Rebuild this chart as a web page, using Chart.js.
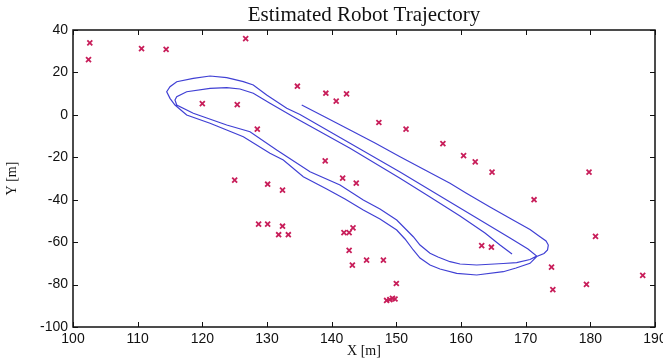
<!DOCTYPE html>
<html lang="en">
<head>
  <meta charset="UTF-8" />
  <title>Estimated Robot Trajectory</title>
  <script src="https://cdn.jsdelivr.net/npm/chart.js"></script>
  <style>
    * { margin: 0; padding: 0; box-sizing: border-box; }
    body { background: #fff; }
    .wrap { width: 663px; height: 360px; }
  </style>
</head>
<body>
<div class="wrap"><canvas id="trajChart" width="663" height="360"></canvas></div>
<script>
// estimated path (one continuous run, spiralling inwards)
const trajX = [
  135.37, 138.97, 142.84, 146.70, 150.57, 154.43, 158.30, 160.77, 164.48, 168.04, 170.67, 172.22, 173.15, 173.50, 173.38, 172.84, 171.71,
  170.67, 168.51, 166.54, 162.43, 159.34, 156.75, 155.21, 153.66, 152.62, 151.34, 150.06, 147.47, 144.89, 142.06, 139.23, 135.61, 132.52, 130.46, 126.34, 121.19, 117.58, 115.77, 115.00, 114.49,
  115.00, 116.04, 118.60, 121.19, 123.77, 126.34, 127.88, 129.95, 133.05, 135.10, 142.84, 150.57, 156.75, 162.94, 167.58, 170.36, 171.71,
  170.67, 168.61, 166.54, 162.43, 159.85, 158.30, 156.44, 155.21, 153.66, 152.62, 150.06, 147.47, 144.89, 141.29, 136.65, 131.50, 127.37, 123.77, 118.60, 116.04, 115.77,
  116.04, 117.58, 121.19, 123.77, 125.82, 127.88, 130.46, 134.07, 135.10, 142.84, 150.57, 155.21, 159.85, 163.71, 166.03, 167.89
];
const trajY = [
  4.65, -1.01, -7.14, -13.27, -19.73, -26.00, -32.26, -36.84, -43.43, -49.57, -54.04, -57.44, -59.47, -61.35, -63.70, -65.36, -66.77,
  -69.98, -72.19, -73.94, -75.49, -74.69, -72.66, -70.78, -67.48, -63.70, -58.52, -54.28, -49.09, -44.85, -39.67, -34.95, -29.15, -21.28, -18.12, -10.30, -3.98, -0.07, 4.65, 7.80, 10.91,
  13.27, 15.63, 17.23, 18.32, 17.51, 15.63, 14.07, 9.36, 3.09, 0.17, -13.41, -26.94, -38.25, -49.57, -58.05, -63.24, -66.54,
  -68.18, -69.69, -70.07, -70.78, -70.31, -69.22, -67.01, -65.26, -61.35, -57.44, -49.57, -44.38, -40.14, -33.07, -26.80, -16.57, -7.94, -4.78, 0.73, 4.65, 7.00,
  8.56, 10.91, 12.52, 12.80, 12.19, 10.16, 5.45, -0.87, -2.66, -15.77, -29.91, -38.72, -47.68, -55.69, -61.35, -65.59
];

// landmark estimates
const markX = [
  102.6, 102.4, 110.6, 114.4, 126.7, 134.7, 139.1, 142.3, 140.7, 120.0, 125.4,
  128.5, 147.3, 151.5, 157.2, 160.4, 162.2, 164.8, 179.8, 171.3, 139.0, 141.7, 143.8, 125.0, 130.1, 132.4,
  128.7, 130.1, 132.4, 131.8, 133.3, 141.9, 142.7, 143.3, 142.7, 145.4, 148.0, 143.2, 150.0,
  148.5, 149.0, 149.4, 149.8, 163.2, 164.7, 174.0, 174.2, 179.4, 180.8, 188.1
];
const markY = [
  33.9, 26.0, 31.2, 30.9, 35.9, 13.5, 10.2, 9.9, 6.5, 5.3, 4.8,
  -6.7, -3.6, -6.7, -13.6, -19.2, -22.2, -27.0, -27.0, -40.0, -21.7, -29.8, -32.2, -30.8, -32.7, -35.5,
  -51.5, -51.5, -52.5, -56.5, -56.5, -55.5, -55.5, -53.3, -63.9, -68.5, -68.5, -70.8, -79.5,
  -87.5, -87.1, -86.5, -86.8, -61.6, -62.4, -71.8, -82.4, -79.9, -57.3, -75.7
];

const xTicks = [100, 110, 120, 130, 140, 150, 160, 170, 180, 190];
const yTicks = [-100, -80, -60, -40, -20, 0, 20, 40];

const tickFont = { family: "'Liberation Sans', Arial, sans-serif", size: 14 };
const serifFont = { family: "'Liberation Serif', 'Times New Roman', serif", size: 14 };

// matlab style box with inward ticks
const boxPlugin = {
  id: 'box',
  afterDatasetsDraw(chart) {
    const { ctx, chartArea: a, scales: { x, y } } = chart;
    ctx.save();
    ctx.strokeStyle = '#111';
    ctx.lineWidth = 1.5;
    ctx.strokeRect(a.left, a.top, a.right - a.left, a.bottom - a.top);
    ctx.lineWidth = 1;
    ctx.beginPath();
    xTicks.forEach(v => {
      const px = Math.round(x.getPixelForValue(v)) + 0.5;
      ctx.moveTo(px, a.bottom); ctx.lineTo(px, a.bottom - 5);
      ctx.moveTo(px, a.top); ctx.lineTo(px, a.top + 5);
    });
    yTicks.forEach(v => {
      const py = Math.round(y.getPixelForValue(v)) + 0.5;
      ctx.moveTo(a.left, py); ctx.lineTo(a.left + 5, py);
      ctx.moveTo(a.right, py); ctx.lineTo(a.right - 5, py);
    });
    ctx.stroke();
    ctx.restore();
  }
};

new Chart(document.getElementById('trajChart'), {
  type: 'scatter',
  data: {
    datasets: [
      {
        label: 'trajectory',
        data: trajX.map((v, i) => ({ x: v, y: trajY[i] })),
        showLine: true,
        borderColor: '#4040d4',
        borderWidth: 1.2,
        pointRadius: 0,
        tension: 0,
        fill: false
      },
      {
        label: 'landmarks',
        data: markX.map((v, i) => ({ x: v, y: markY[i] })),
        showLine: false,
        pointStyle: 'crossRot',
        pointRadius: 3.5,
        borderColor: '#c81e5a',
        borderWidth: 1.8,
        backgroundColor: '#c81e5a'
      }
    ]
  },
  options: {
    responsive: false,
    animation: false,
    layout: { padding: { left: 0, right: 8, top: 0, bottom: 0 } },
    plugins: {
      legend: { display: false },
      tooltip: { enabled: false },
      title: {
        display: true,
        fullSize: false,
        text: 'Estimated Robot Trajectory',
        color: '#111',
        font: { family: serifFont.family, size: 21, weight: 'normal' },
        padding: { top: 3, bottom: 1.8 }
      }
    },
    scales: {
      x: {
        type: 'linear',
        min: 100, max: 190,
        grid: { display: false, drawTicks: false },
        border: { display: false },
        ticks: { stepSize: 10, color: '#111', font: tickFont, padding: 4, maxRotation: 0 },
        title: { display: true, text: 'X [m]', color: '#111', font: serifFont, padding: 0 },
        afterFit(s) { s.height = 33; s.paddingLeft = 0; s.paddingRight = 0; }
      },
      y: {
        type: 'linear',
        min: -100, max: 40,
        grid: { display: false, drawTicks: false },
        border: { display: false },
        ticks: { stepSize: 20, color: '#111', font: tickFont, padding: 5 },
        title: { display: true, text: 'Y [m]', color: '#111', font: serifFont, padding: { top: 4, bottom: 0 } },
        afterFit(s) { s.width = 73; s.paddingTop = 0; s.paddingBottom = 0; }
      }
    }
  },
  plugins: [boxPlugin]
});
</script>
</body>
</html>
